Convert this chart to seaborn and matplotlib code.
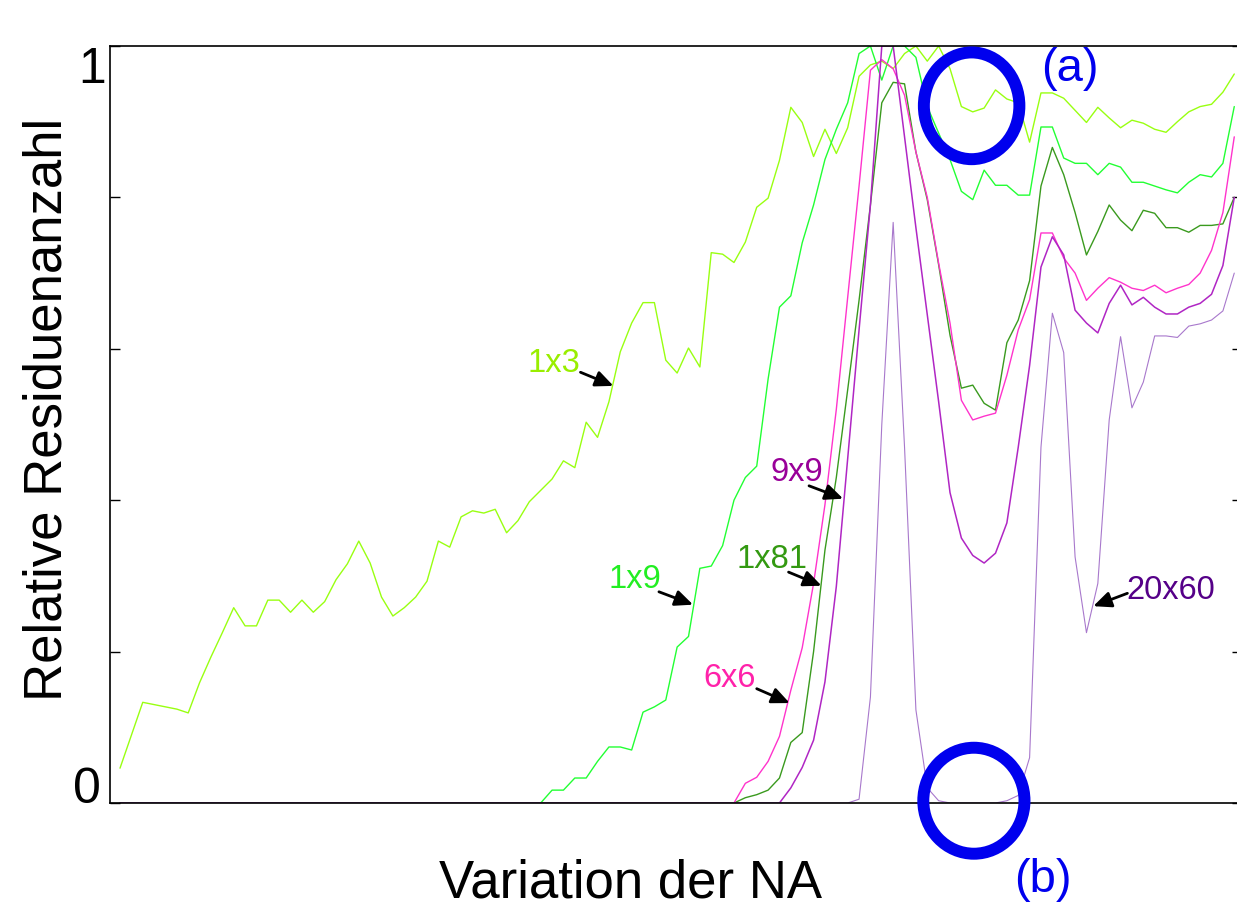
import matplotlib
matplotlib.use("Agg")
import matplotlib.pyplot as plt
import matplotlib.transforms as mtransforms
import pandas as pd
import seaborn as sns
from matplotlib.patches import Ellipse

# sample index along the NA variation, relative residue count (0..1)
x_1x3 = [0, 2, 4, 5, 6, 7, 8, 9, 10, 11, 12, 13, 14, 15, 16, 17, 18, 19, 20, 21, 22, 23, 24, 25, 26, 27, 28, 29,
         30, 31, 32, 33, 34, 35, 36, 37, 38, 39, 40, 41, 42, 43, 44, 45, 46, 47, 48, 49, 50, 51, 52, 53, 54, 55,
         56, 57, 58, 59, 60, 61, 62, 63, 64, 65, 66, 67, 68, 69, 70, 71, 72, 73, 74, 75, 76, 77, 78, 79, 80, 81,
         82, 83, 84, 85, 86, 87, 88, 89, 90, 91, 92, 93, 94, 95, 96, 97, 98]
y_1x3 = [.046, .133, .127, .124, .119, .159, .193, .225, .258, .234, .234, .268, .268, .252, .268, .252, .266, .295,
         .316, .346, .317, .272, .247, .258, .272, .293, .346, .338, .378, .386, .383, .388, .357, .373, .398, .413,
         .428, .452, .443, .503, .483, .53, .596, .634, .661, .661, .585, .568, .601, .576, .727, .725, .714, .741,
         .787, .799, .849, .919, .899, .854, .890, .858, .892, .96, .975, .98, .97, .99, 1.0, .98, 1.0, .97, .92,
         .913, .918, .942, .93, .925, .873, .938, .938, .931, .915, .899, .919, .905, .892, .902, .898, .89, .886,
         .9, .913, .92, .923, .939, .963]

x_1x9 = [0] + list(range(37, 99))
y_1x9 = [0, 0, .017, .017, .033, .033, .055, .074, .074, .07, .12, .127, .136, .206, .22, .31, .313, .34, .40, .43,
         .445, .56, .655, .67, .74, .79, .85, .89, .925, .99, 1.0, .955, 1.0, 1.0, .985, .92, .885, .85, .808, .797,
         .836, .816, .816, .803, .803, .893, .893, .852, .845, .845, .83, .845, .84, .82, .82, .815, .81, .806, .82,
         .83, .827, .845, .92]

x_1x81 = [0] + list(range(54, 99))
y_1x81 = [0, 0, .007, .011, .017, .033, .08, .093, .2, .334, .43, .546, .664, .79, .925, .952, .95, .86, .797,
          .711, .618, .548, .552, .528, .519, .608, .638, .69, .815, .866, .83, .78, .724, .755, .79, .77, .756, .783,
          .779, .76, .76, .754, .763, .763, .765, .80]

x_6x6 = [0] + list(range(54, 99))
y_6x6 = [0, 0, .026, .034, .055, .088, .149, .205, .29, .394, .52, .668, .815, .968, .982, .97, .935, .86, .80,
         .713, .634, .532, .506, .511, .515, .565, .625, .665, .753, .753, .72, .70, .664, .68, .694, .688, .68,
         .677, .684, .674, .68, .685, .70, .73, .78, .88]

x_9x9 = [0] + list(range(58, 99))
y_9x9 = [0, 0, .02, .047, .083, .16, .286, .455, .625, .79, 1.0, 1.0, .88, .76, .645, .53, .41, .35, .327, .317,
         .33, .37, .47, .578, .708, .748, .724, .651, .634, .621, .66, .684, .658, .668, .655, .646, .646, .655,
         .66, .672, .71, .80]

x_20x60 = [0] + list(range(64, 99))
y_20x60 = [0, 0, .005, .14, .5, .767, .47, .123, .02, .003, 0, 0, 0, 0, 0, .003, .01, .06, .47, .647, .595, .325,
           .225, .29, .506, .616, .522, .556, .617, .617, .615, .63, .633, .638, .65, .70]

series = ["1x3", "1x9", "1x81", "6x6", "9x9", "20x60"]
xs = [x_1x3, x_1x9, x_1x81, x_6x6, x_9x9, x_20x60]
ys = [y_1x3, y_1x9, y_1x81, y_6x6, y_9x9, y_20x60]
line_colors = ["#99ff11", "#22ff33", "#3a9a1e", "#ff33cc", "#b026c4", "#a878cc"]
text_colors = ["#99ee00", "#22ee22", "#339911", "#ff22aa", "#990099", "#550088"]
line_widths = [1.0, 1.0, 1.0, 1.0, 1.1, 0.8]

# label centre, arrow tail, arrow head (sample index, value)
label_xy = [(38.2, .581), (45.3, .295), (57.3, .322), (53.6, .164), (59.5, .437), (92.4, .281)]
tail_xy = [(40.5, .569), (47.4, .279), (58.8, .305), (56.0, .151), (60.6, .419), (88.6, .277)]
head_xy = [(43.4, .551), (50.4, .262), (61.7, .287), (58.9, .132), (63.6, .402), (85.6, .260)]

# the two blue marks
circle_centre = [(74.9, .921), (75.1, .003)]
circle_size = [(8.4, .141), (8.9, .140)]
mark_text = ["(a)", "(b)"]
mark_xy = [(83.5, .970), (81.2, -.102)]

sns.set_theme(style="white")
plt.rcParams["font.family"] = ["Liberation Sans", "DejaVu Sans"]
plt.rcParams["text.color"] = "black"
plt.rcParams["axes.labelcolor"] = "black"

df = pd.concat([pd.DataFrame({"NA": x, "rel": y, "series": s}) for s, x, y in zip(series, xs, ys)],
               ignore_index=True)

fig = plt.figure(figsize=(12.37, 9.06), dpi=100)
ax = fig.add_axes([110 / 1237, 103 / 906, 1132 / 1237, 757 / 906])

for s, c, lw in zip(series, line_colors, line_widths):
    sns.lineplot(data=df[df["series"] == s], x="NA", y="rel", color=c, lw=lw, ax=ax,
                 estimator=None, sort=False, legend=False)

for s, tc, t, tl, h in zip(series, text_colors, label_xy, tail_xy, head_xy):
    ax.text(t[0], t[1], s, color=tc, fontsize=23.5, ha="center", va="center")
    ax.annotate("", xy=h, xytext=tl,
                arrowprops=dict(arrowstyle="-|>,head_length=0.9,head_width=0.4", lw=2.0, color="black",
                                shrinkA=0, shrinkB=0))

for c, sz, t, p in zip(circle_centre, circle_size, mark_text, mark_xy):
    ax.add_patch(Ellipse(c, sz[0], sz[1], fill=False, ec="#0000ee", lw=8.6, zorder=10, clip_on=False))
    ax.text(p[0], p[1], t, color="#0000ee", fontsize=34, ha="center", va="center", clip_on=False)

ax.set_xlim(-0.88, 98.68)
ax.set_ylim(0, 1)
ax.set_xticks([])
ax.set_yticks([0, .2, .4, .6, .8, 1.0])
ax.set_yticklabels([])
ax.tick_params(axis="y", direction="in", length=7, width=1.0, left=True, right=True, color="black")

# MATLAB-like end labels: "1" hangs below its tick, "0" sits on its tick
ytrans = mtransforms.blended_transform_factory(ax.transAxes, ax.transData)
ax.text(-4 / 1132, 1 - 37 / 757, "1", fontsize=36, ha="right", va="baseline", transform=ytrans)
ax.text(-9 / 1132, 0, "0", fontsize=36, ha="right", va="baseline", transform=ytrans)

for side in ["left", "top", "bottom"]:
    ax.spines[side].set_color("black")
    ax.spines[side].set_linewidth(1.2)
ax.spines["right"].set_visible(False)

ax.set_xlabel("Variation der NA", fontsize=38)
ax.set_ylabel("Relative Residuenanzahl", fontsize=38)
ax.xaxis.set_label_coords(0.4594, -0.1057)
ax.xaxis.label.set_va("center")
ax.yaxis.set_label_coords(-0.0548, 0.5205)
ax.yaxis.label.set_va("center")

fig.savefig("out.png", dpi=100)
